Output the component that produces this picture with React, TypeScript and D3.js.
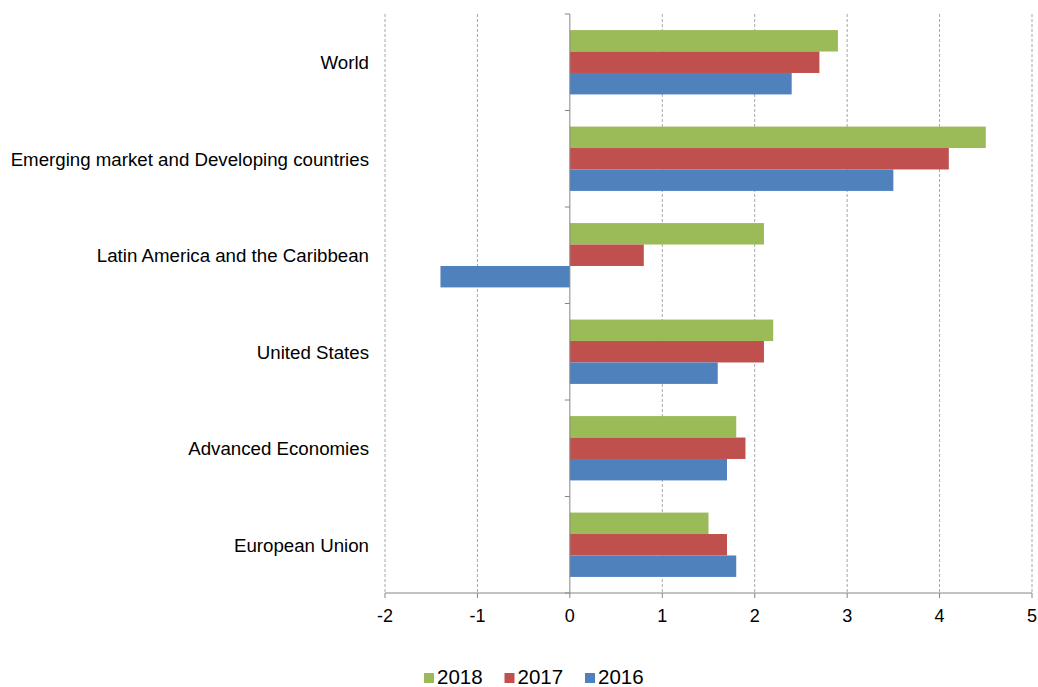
import * as d3 from "d3";

const categories = [
  "World",
  "Emerging market and Developing countries",
  "Latin America and the Caribbean",
  "United States",
  "Advanced Economies",
  "European Union",
];
const seriesNames = ["2018", "2017", "2016"];
const values2018 = [2.9, 4.5, 2.1, 2.2, 1.8, 1.5];
const values2017 = [2.7, 4.1, 0.8, 2.1, 1.9, 1.7];
const values2016 = [2.4, 3.5, -1.4, 1.6, 1.7, 1.8];
const xTicks = [-2, -1, 0, 1, 2, 3, 4, 5];
const colors = ["#9bbb59", "#c0504d", "#4f81bd"];

const W = 1038;
const H = 687;
const left = 385;
const right = 1032;
const top = 14;
const bottom = 593;
const font = "Liberation Sans, Arial, sans-serif";

export default function App() {
  const series = [values2018, values2017, values2016];
  const x = d3.scaleLinear().domain([-2, 5]).range([left, right]);
  const y = d3.scaleBand<string>().domain(categories).range([top, bottom]);
  const inner = d3
    .scaleBand<string>()
    .domain(seriesNames)
    .range([0, y.bandwidth()])
    .paddingOuter(0.75);
  const x0 = x(0);
  const bandEdges = categories.map((c) => y(c) ?? 0).concat([bottom]);

  return (
    <svg
      width={W}
      height={H}
      style={{ position: "absolute", left: 0, top: 0, background: "#fff" }}
      fontFamily={font}
    >
      {xTicks
        .filter((t) => t !== 0)
        .map((t) => (
          <line
            key={`g${t}`}
            x1={x(t)}
            x2={x(t)}
            y1={top}
            y2={bottom}
            stroke="#a6a6a6"
            strokeDasharray="3,2"
          />
        ))}
      {series.map((vals, si) =>
        categories.map((c, ci) => {
          const v = vals[ci];
          const by = (y(c) ?? 0) + (inner(seriesNames[si]) ?? 0);
          return (
            <rect
              key={`${si}-${ci}`}
              x={Math.min(x(v), x0)}
              y={by}
              width={Math.abs(x(v) - x0)}
              height={inner.bandwidth()}
              fill={colors[si]}
            />
          );
        })
      )}
      <line x1={left} x2={right} y1={bottom} y2={bottom} stroke="#868686" />
      {xTicks.map((t) => (
        <g key={`t${t}`}>
          <line x1={x(t)} x2={x(t)} y1={bottom} y2={bottom + 5} stroke="#868686" />
          <text
            x={x(t)}
            y={bottom + 29}
            textAnchor="middle"
            fontSize={18}
            fill="#000"
          >
            {t}
          </text>
        </g>
      ))}
      <line x1={x0} x2={x0} y1={top} y2={bottom} stroke="#868686" />
      {bandEdges.map((e, i) => (
        <line key={`yt${i}`} x1={x0 - 5} x2={x0} y1={e} y2={e} stroke="#868686" />
      ))}
      {categories.map((c) => (
        <text
          key={c}
          x={369}
          y={(y(c) ?? 0) + y.bandwidth() / 2 + 7}
          textAnchor="end"
          fontSize={18.7}
          fill="#000"
        >
          {c}
        </text>
      ))}
      {seriesNames.map((s, i) => {
        const lx = 424 + i * 80.5;
        return (
          <g key={`l${s}`}>
            <rect x={lx} y={673} width={10} height={10} fill={colors[i]} />
            <text x={lx + 13} y={684} fontSize={20.5} fill="#000">
              {s}
            </text>
          </g>
        );
      })}
    </svg>
  );
}
